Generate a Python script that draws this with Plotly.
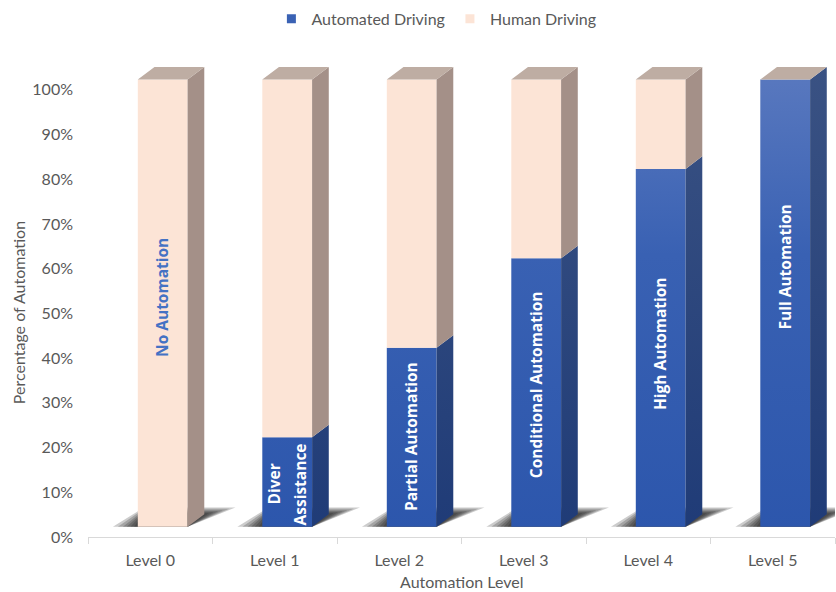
import plotly.graph_objects as go

# ---- data -------------------------------------------------------------
levels = ["Level 0", "Level 1", "Level 2", "Level 3", "Level 4", "Level 5"]
automated = [0, 20, 40, 60, 80, 100]
human = [100, 80, 60, 40, 20, 0]
bar_labels = ["No Automation", "Diver|Assistance", "Partial Automation",
              "Conditional Automation", "High Automation", "Full Automation"]
label_y = [53.6, 11.8, 22.5, 34.0, 43.3, 60.3]
y_ticks = [0, 10, 20, 30, 40, 50, 60, 70, 80, 90, 100]
y_tick_text = [f"{v}%" for v in y_ticks]

# ---- style ------------------------------------------------------------
BLUE = "#3A62B4"
BLUE_FRONT_SCALE = [[0, "#2C56AC"], [0.6, "#3961B3"], [1, "#5A79BF"]]
BLUE_SIDE_SCALE = [[0, "#1F3B77"], [1, "#3A5283"]]
PEACH = "#FCE4D6"
PEACH_SIDE = "#A49088"
TOP = "#BEADA3"
TEXT_GREY = "#595959"
LABEL_BLUE = "#4472C4"

LIFT = 2.3      # front face raised off the floor
OFFSET = -0.1   # front face left edge relative to category centre
WIDTH = 0.4     # front face width
DX = 0.134      # depth, x units
DY = 2.8        # depth, y units

xs = list(range(len(levels)))
fig = go.Figure()


def front_polys(bottoms, heights):
    px, py = [], []
    for i, (b0, h) in enumerate(zip(bottoms, heights)):
        if h <= 0:
            continue
        xl = i + OFFSET
        b, t = LIFT + b0, LIFT + b0 + h
        px += [xl, xl + WIDTH, xl + WIDTH, xl, xl, None]
        py += [b, b, t, t, b, None]
    return px, py


def side_polys(bottoms, heights):
    px, py = [], []
    for i, (b0, h) in enumerate(zip(bottoms, heights)):
        if h <= 0:
            continue
        xr = i + OFFSET + WIDTH
        b, t = LIFT + b0, LIFT + b0 + h
        px += [xr, xr + DX, xr + DX, xr, xr, None]
        py += [b, b + DY, t + DY, t, b, None]
    return px, py


def face(px, py, **fill):
    return go.Scatter(x=px, y=py, fill="toself", mode="lines",
                      line=dict(width=0), showlegend=False, hoverinfo="skip",
                      **fill)


grad = dict(type="vertical", start=0, stop=LIFT + 100 + DY)

# automated driving segments
fx, fy = front_polys([0] * len(xs), automated)
fig.add_trace(face(fx, fy, fillgradient=dict(colorscale=BLUE_FRONT_SCALE, **grad)))
sx, sy = side_polys([0] * len(xs), automated)
fig.add_trace(face(sx, sy, fillgradient=dict(colorscale=BLUE_SIDE_SCALE, **grad)))

# human driving segments
fx, fy = front_polys(automated, human)
fig.add_trace(face(fx, fy, fillcolor=PEACH))
sx, sy = side_polys(automated, human)
fig.add_trace(face(sx, sy, fillcolor=PEACH_SIDE))

# top faces
tx, ty = [], []
for i, (a, h) in enumerate(zip(automated, human)):
    T = LIFT + a + h
    xl = i + OFFSET
    tx += [xl, xl + WIDTH, xl + WIDTH + DX, xl + DX, xl, None]
    ty += [T, T, T + DY, T + DY, T, None]
fig.add_trace(face(tx, ty, fillcolor=TOP))

# soft floor shadows behind each bar
shapes = []
for i in xs:
    for s in [1.0, 0.8, 0.6, 0.45, 0.3, 0.15]:
        x0 = i + OFFSET - 0.2 * s
        x1 = i + OFFSET + WIDTH
        x2 = i + OFFSET + WIDTH + DX + 0.25 * s
        x3 = i + OFFSET + 0.05
        y0 = LIFT
        y1 = LIFT + DY + 1.5 * s
        shapes.append(dict(type="path", xref="x", yref="y", layer="below",
                           path=f"M{x0},{y0} L{x1},{y0} L{x2},{y1} L{x3},{y1} Z",
                           fillcolor="rgba(25,25,25,0.22)", line=dict(width=0)))

# legend entries
fig.add_trace(go.Scatter(x=[None], y=[None], mode="markers", name="Automated Driving",
                         marker=dict(symbol="square", size=9, color=BLUE)))
fig.add_trace(go.Scatter(x=[None], y=[None], mode="markers", name="Human Driving",
                         marker=dict(symbol="square", size=9, color=PEACH)))

# in-bar labels
annotations = []
for i, (txt, yv) in enumerate(zip(bar_labels, label_y)):
    color = LABEL_BLUE if automated[i] == 0 else "white"
    lines = txt.split("|")
    n = len(lines)
    for j, line in enumerate(lines):
        annotations.append(dict(
            x=i + OFFSET + WIDTH / 2, y=yv, xref="x", yref="y", text=line,
            textangle=-90, showarrow=False, xshift=(j - (n - 1) / 2) * 26,
            font=dict(family="Open Sans", size=15.5, color=color, weight="bold")))

annotations.append(dict(text="Percentage of Automation", x=-0.0937, y=0.455,
                        xref="paper", yref="paper", xanchor="center",
                        yanchor="middle", textangle=-90, showarrow=False,
                        font=dict(family="Lato", size=16, color=TEXT_GREY)))
annotations.append(dict(text="Automation Level", x=0.5, y=-0.09,
                        xref="paper", yref="paper", showarrow=False,
                        xanchor="center", yanchor="middle",
                        font=dict(family="Lato", size=16, color=TEXT_GREY)))

fig.update_layout(
    width=836, height=592,
    margin=dict(l=88, r=1, t=45, b=55),
    paper_bgcolor="white", plot_bgcolor="white",
    shapes=shapes, annotations=annotations,
    font=dict(family="Lato", size=16, color=TEXT_GREY),
    legend=dict(orientation="h", x=0.522, xref="container", xanchor="center",
                y=0.968, yref="container", yanchor="middle",
                font=dict(family="Lato", size=16, color=TEXT_GREY),
                itemwidth=30, bgcolor="rgba(0,0,0,0)"),
    xaxis=dict(range=[-0.5, 5.5], tickvals=xs, ticktext=levels,
               showgrid=False, zeroline=False, showline=True,
               linecolor="#D9D9D9", linewidth=1, ticks="", ticklabelstandoff=9,
               minor=dict(tickvals=[i - 0.5 for i in range(len(levels) + 1)],
                          ticks="outside", ticklen=6, tickcolor="#D9D9D9",
                          showgrid=False),
               fixedrange=True),
    yaxis=dict(range=[0, 110], tickvals=y_ticks, ticktext=y_tick_text,
               showgrid=False, zeroline=False, showline=False, ticks="",
               ticklabelstandoff=14, fixedrange=True),
)

fig.write_html("out.html")
